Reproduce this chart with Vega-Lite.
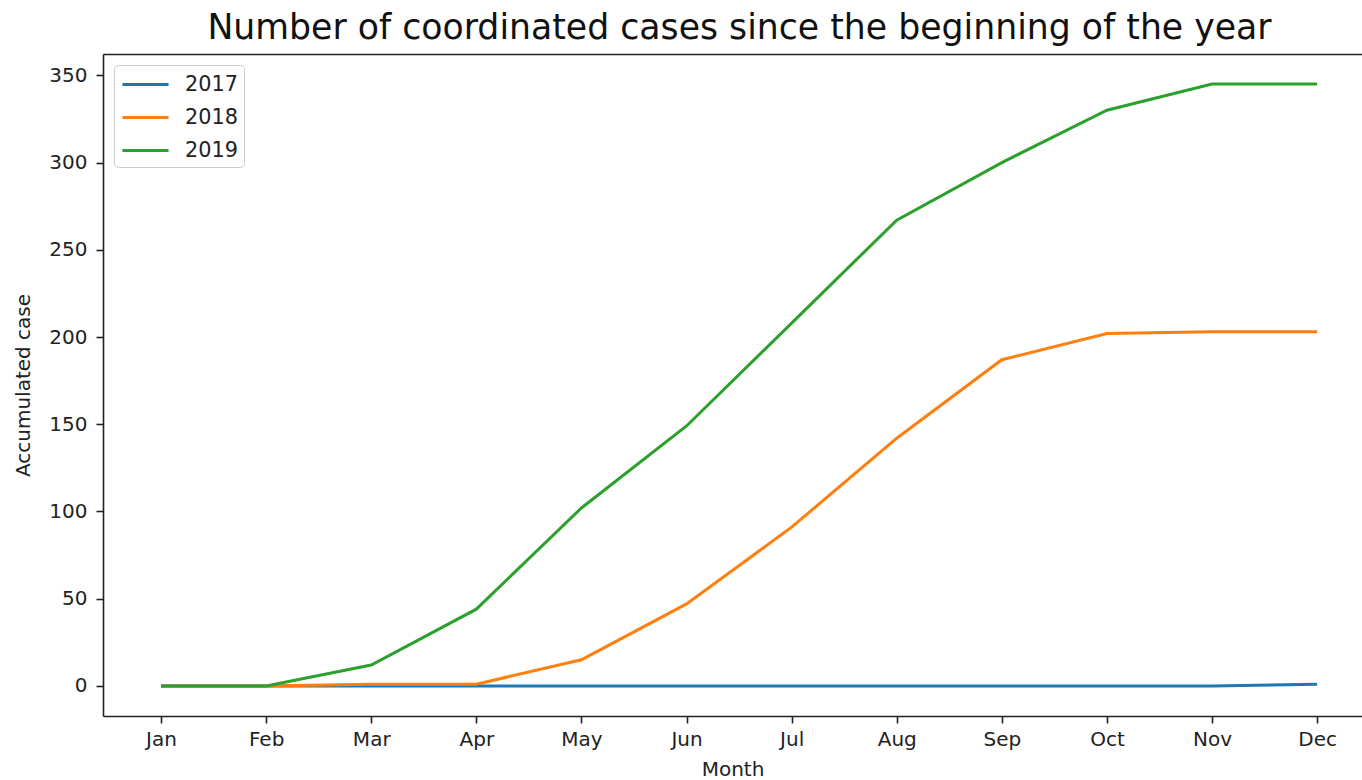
{
  "$schema": "https://vega.github.io/schema/vega-lite/v6.json",
  "autosize": {"type": "none"},
  "width": 1259,
  "height": 662,
  "padding": {"left": 103, "top": 54, "right": 0, "bottom": 64},
  "background": "white",
  "config": {
    "font": "DejaVu Sans",
    "view": {"stroke": null},
    "axis": {
      "grid": false,
      "domainColor": "#222222",
      "domainWidth": 1.6,
      "tickColor": "#222222",
      "tickWidth": 1.6,
      "tickSize": 7,
      "labelFontSize": 20,
      "labelColor": "#222222",
      "titleFontSize": 20,
      "titleFontWeight": "normal",
      "titleColor": "#222222"
    }
  },
  "title": {
    "text": "Number of coordinated cases since the beginning of the year",
    "fontSize": 34.7,
    "fontWeight": "normal",
    "color": "#111111",
    "anchor": "middle",
    "baseline": "alphabetic",
    "offset": 12,
    "dx": 7,
    "dy": 32
  },
  "data": {
    "values": [
      {"month": "Jan", "year": "2017", "cases": 0},
      {"month": "Feb", "year": "2017", "cases": 0},
      {"month": "Mar", "year": "2017", "cases": 0},
      {"month": "Apr", "year": "2017", "cases": 0},
      {"month": "May", "year": "2017", "cases": 0},
      {"month": "Jun", "year": "2017", "cases": 0},
      {"month": "Jul", "year": "2017", "cases": 0},
      {"month": "Aug", "year": "2017", "cases": 0},
      {"month": "Sep", "year": "2017", "cases": 0},
      {"month": "Oct", "year": "2017", "cases": 0},
      {"month": "Nov", "year": "2017", "cases": 0},
      {"month": "Dec", "year": "2017", "cases": 1},
      {"month": "Jan", "year": "2018", "cases": 0},
      {"month": "Feb", "year": "2018", "cases": 0},
      {"month": "Mar", "year": "2018", "cases": 1},
      {"month": "Apr", "year": "2018", "cases": 1},
      {"month": "May", "year": "2018", "cases": 15},
      {"month": "Jun", "year": "2018", "cases": 47},
      {"month": "Jul", "year": "2018", "cases": 91},
      {"month": "Aug", "year": "2018", "cases": 142},
      {"month": "Sep", "year": "2018", "cases": 187},
      {"month": "Oct", "year": "2018", "cases": 202},
      {"month": "Nov", "year": "2018", "cases": 203},
      {"month": "Dec", "year": "2018", "cases": 203},
      {"month": "Jan", "year": "2019", "cases": 0},
      {"month": "Feb", "year": "2019", "cases": 0},
      {"month": "Mar", "year": "2019", "cases": 12},
      {"month": "Apr", "year": "2019", "cases": 44},
      {"month": "May", "year": "2019", "cases": 102},
      {"month": "Jun", "year": "2019", "cases": 149},
      {"month": "Jul", "year": "2019", "cases": 208},
      {"month": "Aug", "year": "2019", "cases": 267},
      {"month": "Sep", "year": "2019", "cases": 300},
      {"month": "Oct", "year": "2019", "cases": 330},
      {"month": "Nov", "year": "2019", "cases": 345},
      {"month": "Dec", "year": "2019", "cases": 345}
    ]
  },
  "resolve": {"axis": {"x": "independent"}},
  "layer": [
    {
      "mark": {"type": "line", "strokeWidth": 3},
      "encoding": {
        "x": {
          "field": "month",
          "type": "ordinal",
          "scale": {
            "type": "point",
            "domain": ["Jan", "Feb", "Mar", "Apr", "May", "Jun", "Jul", "Aug", "Sep", "Oct", "Nov", "Dec"],
            "padding": 0.4895,
            "align": 0.564
          },
          "axis": {"title": "Month", "labelAngle": 0, "labelPadding": 6, "titlePadding": 10, "orient": "bottom"}
        },
        "y": {
          "field": "cases",
          "type": "quantitative",
          "scale": {"domain": [-17.25, 362.25], "nice": false, "zero": false},
          "axis": {"title": "Accumulated case", "values": [0, 50, 100, 150, 200, 250, 300, 350], "labelPadding": 9, "titlePadding": 15}
        },
        "color": {
          "field": "year",
          "type": "nominal",
          "scale": {"domain": ["2017", "2018", "2019"], "range": ["#1f77b4", "#ff7f0e", "#2ca02c"]},
          "legend": {
            "title": null,
            "orient": "top-left",
            "offset": 11,
            "symbolType": "M-1.92,0H1.92",
            "symbolSize": 576,
            "symbolStrokeWidth": 3,
            "symbolOffset": 12,
            "labelOffset": 26,
            "labelFontSize": 20.8,
            "labelColor": "#222222",
            "padding": 6,
            "rowPadding": 9,
            "strokeColor": "#cccccc",
            "fillColor": "rgba(255,255,255,0.8)",
            "cornerRadius": 4
          }
        }
      }
    },
    {
      "mark": {"type": "line", "strokeOpacity": 0},
      "encoding": {
        "x": {
          "field": "month",
          "type": "ordinal",
          "axis": {"orient": "top", "title": null, "labels": false, "ticks": false, "minExtent": 0, "maxExtent": 0}
        },
        "y": {"field": "cases", "type": "quantitative"},
        "detail": {"field": "year"}
      }
    }
  ]
}
